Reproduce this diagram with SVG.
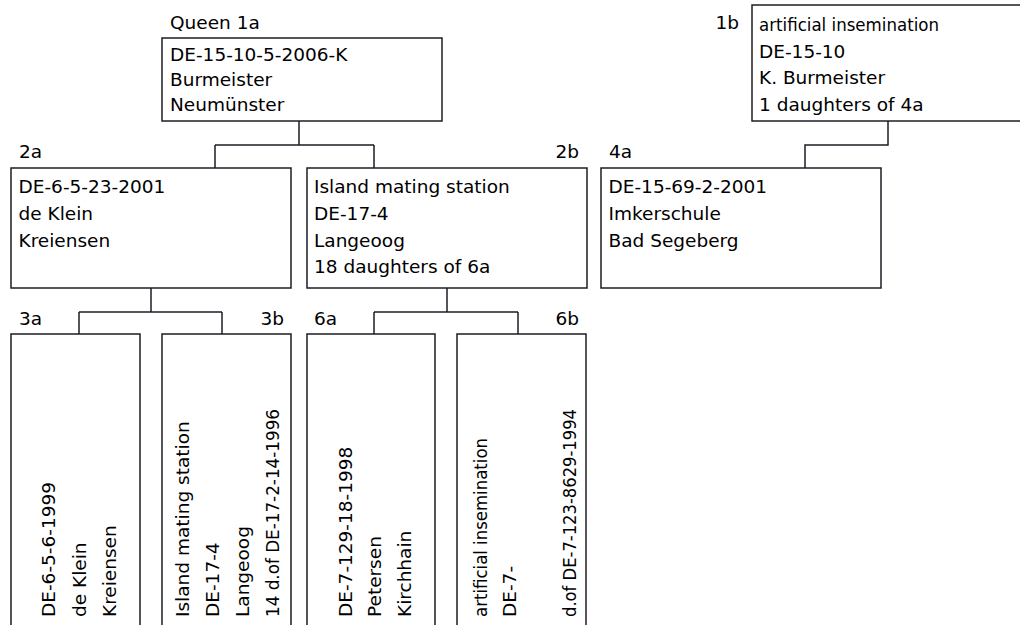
<svg xmlns="http://www.w3.org/2000/svg" width="1020" height="625" viewBox="0 0 1020 625">
<style>
.box{fill:#fff;stroke:#1c1c24;stroke-width:1.5}
.c{fill:none;stroke:#1c1c24;stroke-width:1.5}
text{font-family:"DejaVu Sans","Verdana",sans-serif;font-size:18.5px;fill:#000}
.e{text-anchor:end}
</style>
<rect width="1020" height="625" fill="#fff"/>
<g id="connectors">
<path class="c" d="M299,121V145M215,145H374M215,145V168M374,145V168"/>
<path class="c" d="M888,121V145H805V168"/>
<path class="c" d="M151,288V312M79,312H222M79,312V334M222,312V334"/>
<path class="c" d="M447,288V312M374,312H518M374,312V334M518,312V334"/>
</g>
<g id="n1a">
<text x="170" y="29.3">Queen 1a</text>
<rect class="box" x="162" y="38" width="280" height="83"/>
<text x="170" y="60.5">DE-15-10-5-2006-K</text>
<text x="170" y="86">Burmeister</text>
<text x="170" y="111">Neumünster</text>
</g>
<g id="n1b">
<text class="e" x="739" y="29.3">1b</text>
<rect class="box" x="752" y="5" width="280" height="116"/>
<text x="759" y="31" textLength="180" lengthAdjust="spacingAndGlyphs">artificial insemination</text>
<text x="759" y="57.5">DE-15-10</text>
<text x="759" y="84">K. Burmeister</text>
<text x="759" y="110.5">1 daughters of 4a</text>
</g>
<g id="n2a">
<text x="19" y="158.3">2a</text>
<rect class="box" x="11" y="168" width="280" height="120"/>
<text x="18.5" y="193.3">DE-6-5-23-2001</text>
<text x="18.5" y="220">de Klein</text>
<text x="18.5" y="246.5">Kreiensen</text>
</g>
<g id="n2b">
<text class="e" x="579" y="158.3">2b</text>
<rect class="box" x="307" y="168" width="280" height="120"/>
<text x="314" y="193.3">Island mating station</text>
<text x="314" y="220">DE-17-4</text>
<text x="314" y="246.7">Langeoog</text>
<text x="314" y="273.3">18 daughters of 6a</text>
</g>
<g id="n4a">
<text x="609" y="158.3">4a</text>
<rect class="box" x="601" y="168" width="280" height="120"/>
<text x="608.5" y="193.3">DE-15-69-2-2001</text>
<text x="608.5" y="220">Imkerschule</text>
<text x="608.5" y="246.5">Bad Segeberg</text>
</g>
<g id="n3a">
<text x="19" y="325">3a</text>
<rect class="box" x="11" y="334" width="129" height="310"/>
<text transform="translate(55,617) rotate(-90)">DE-6-5-6-1999</text>
<text transform="translate(85.5,617) rotate(-90)">de Klein</text>
<text transform="translate(116,617) rotate(-90)">Kreiensen</text>
</g>
<g id="n3b">
<text class="e" x="284" y="325">3b</text>
<rect class="box" x="162" y="334" width="129" height="310"/>
<text transform="translate(189,617) rotate(-90)">Island mating station</text>
<text transform="translate(219,617) rotate(-90)">DE-17-4</text>
<text transform="translate(249,617) rotate(-90)">Langeoog</text>
<text transform="translate(279,617) rotate(-90)" textLength="208" lengthAdjust="spacingAndGlyphs">14 d.of DE-17-2-14-1996</text>
</g>
<g id="n6a">
<text x="314" y="325">6a</text>
<rect class="box" x="307" y="334" width="128" height="310"/>
<text transform="translate(351.7,617) rotate(-90)">DE-7-129-18-1998</text>
<text transform="translate(381,617) rotate(-90)">Petersen</text>
<text transform="translate(410.7,617) rotate(-90)">Kirchhain</text>
</g>
<g id="n6b">
<text class="e" x="579" y="325">6b</text>
<rect class="box" x="457" y="334" width="129" height="310"/>
<text transform="translate(486.7,617) rotate(-90)" textLength="179" lengthAdjust="spacingAndGlyphs">artificial insemination</text>
<text transform="translate(516,617) rotate(-90)">DE-7-</text>
<text transform="translate(575.5,617) rotate(-90)" textLength="208" lengthAdjust="spacingAndGlyphs">d.of DE-7-123-8629-1994</text>
</g>
</svg>
